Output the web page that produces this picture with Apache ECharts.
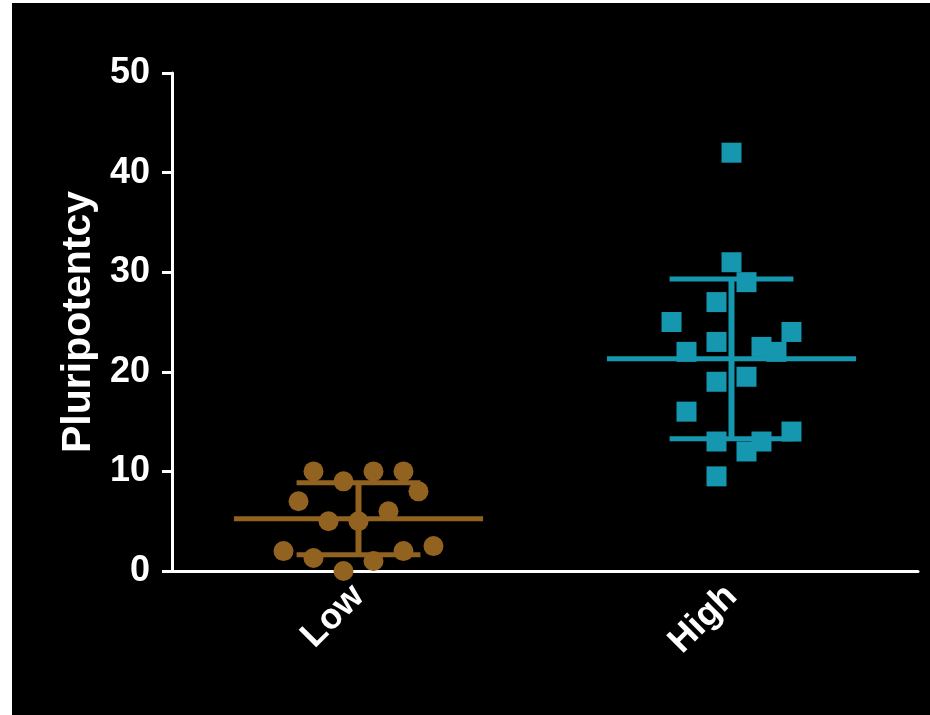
<!DOCTYPE html>
<html>
<head>
<meta charset="utf-8">
<script src="https://cdn.jsdelivr.net/npm/echarts@6/dist/echarts.min.js"></script>
<style>
html,body{margin:0;padding:0;background:#fff;}
#chart{width:930px;height:715px;}
</style>
</head>
<body>
<div id="chart"></div>
<script>
// ---- data ----
var categories = ['Low', 'High'];
var yTicks = [0, 10, 20, 30, 40, 50];
var yAxisName = 'Pluripotentcy';
// values
var lowValues  = [10, 9, 10, 10, 7, 8, 6, 5, 5, 2, 1.3, 1, 2, 2.5, 0];
// horizontal jitter slot of each point (as drawn in the reference)
var lowSlots   = [-3, -1, 1, 3, -4, 4, 2, -2, 0, -5, -3, 1, 3, 5, -1];
var highValues = [42, 31, 29, 27, 25, 24, 23, 22.5, 22, 22, 19, 19.5, 16, 14, 13, 13, 12, 9.5];
var highSlots  = [0, 0, 1, -1, -4, 4, -1, 2, -3, 3, -1, 1, -3, 4, -1, 2, 1, -1];

// ---- helpers ----
function mean(a){ var s=0; a.forEach(function(v){s+=v;}); return s/a.length; }
function sd(a){ var m=mean(a), s=0; a.forEach(function(v){s+=(v-m)*(v-m);}); return Math.sqrt(s/(a.length-1)); }

var SLOT = 0.0402;       // width of a jitter slot in category units
var MEAN_HALF = 0.334;   // half-length of mean line
var CAP_HALF = 0.166;    // half-length of SD caps
var brown = '#926220';
var teal = '#1597B0';

function pts(values, slots, idx){
  return values.map(function(v,i){ return [idx + slots[i]*SLOT, v]; });
}

var stats = [
  [0, mean(lowValues), sd(lowValues)],
  [1, mean(highValues), sd(highValues)]
];
var colors = [brown, teal];

var chart = echarts.init(document.getElementById('chart'));
var font = '"Liberation Sans", Arial, Helvetica, sans-serif';

chart.setOption({
  backgroundColor: '#000',
  animation: false,
  textStyle: { fontFamily: font },
  graphic: [
    { type: 'rect', shape: { x: 0, y: 0, width: 12, height: 715 }, style: { fill: '#fff' }, z: 100 },
    { type: 'rect', shape: { x: 0, y: 0, width: 930, height: 3 }, style: { fill: '#fff' }, z: 100 }
  ],
  grid: { left: 172, right: 12, top: 73, bottom: 144, containLabel: false },
  xAxis: [
    {
      type: 'category',
      data: categories,
      boundaryGap: true,
      axisLine: { onZero: false, lineStyle: { color: '#fff', width: 3 } },
      axisTick: { alignWithLabel: true, length: 12, lineStyle: { color: '#fff', width: 3 } },
      axisLabel: { color: '#fff', fontSize: 36, fontWeight: 'bold', fontFamily: font, rotate: 45, margin: 20 },
      splitLine: { show: false }
    },
    {
      type: 'value',
      min: -0.5, max: 1.5,
      show: false,
      splitLine: { show: false }
    }
  ],
  yAxis: {
    type: 'value',
    min: 0, max: 50, interval: 10,
    name: yAxisName,
    nameLocation: 'middle',
    nameGap: 72,
    nameRotate: 90,
    nameTextStyle: { color: '#fff', fontSize: 41, fontWeight: 'bold', fontFamily: font },
    axisLine: { show: true, onZero: false, lineStyle: { color: '#fff', width: 3 } },
    axisTick: { show: true, length: 10, lineStyle: { color: '#fff', width: 3 } },
    axisLabel: {
      color: '#fff', fontSize: 36, fontWeight: 'bold', fontFamily: font, margin: 22,
      formatter: function(v){ return yTicks.indexOf(v) >= 0 ? String(v) : ''; }
    },
    splitLine: { show: false }
  },
  series: [
    {
      type: 'custom',
      xAxisIndex: 1,
      data: stats,
      z: 1,
      renderItem: function(params, api){
        var idx = api.value(0), m = api.value(1), s = api.value(2);
        var c = colors[params.dataIndex];
        var a = api.coord([idx - MEAN_HALF, m]), b = api.coord([idx + MEAN_HALF, m]);
        var u1 = api.coord([idx - CAP_HALF, m + s]), u2 = api.coord([idx + CAP_HALF, m + s]);
        var l1 = api.coord([idx - CAP_HALF, m - s]), l2 = api.coord([idx + CAP_HALF, m - s]);
        var vt = api.coord([idx, m + s]), vb = api.coord([idx, m - s]);
        var st = { stroke: c, lineWidth: 5 };
        return {
          type: 'group',
          children: [
            { type: 'line', shape: { x1: a[0], y1: a[1], x2: b[0], y2: b[1] }, style: st },
            { type: 'line', shape: { x1: u1[0], y1: u1[1], x2: u2[0], y2: u2[1] }, style: st },
            { type: 'line', shape: { x1: l1[0], y1: l1[1], x2: l2[0], y2: l2[1] }, style: st },
            { type: 'line', shape: { x1: vt[0], y1: vt[1], x2: vb[0], y2: vb[1] }, style: { stroke: c, lineWidth: 6 } }
          ]
        };
      }
    },
    {
      type: 'scatter',
      xAxisIndex: 1,
      symbol: 'circle',
      symbolSize: 20,
      itemStyle: { color: brown, opacity: 1 },
      data: pts(lowValues, lowSlots, 0),
      z: 2
    },
    {
      type: 'scatter',
      xAxisIndex: 1,
      symbol: 'rect',
      symbolSize: 20,
      itemStyle: { color: teal, opacity: 1 },
      data: pts(highValues, highSlots, 1),
      z: 2
    }
  ]
});
</script>
</body>
</html>
